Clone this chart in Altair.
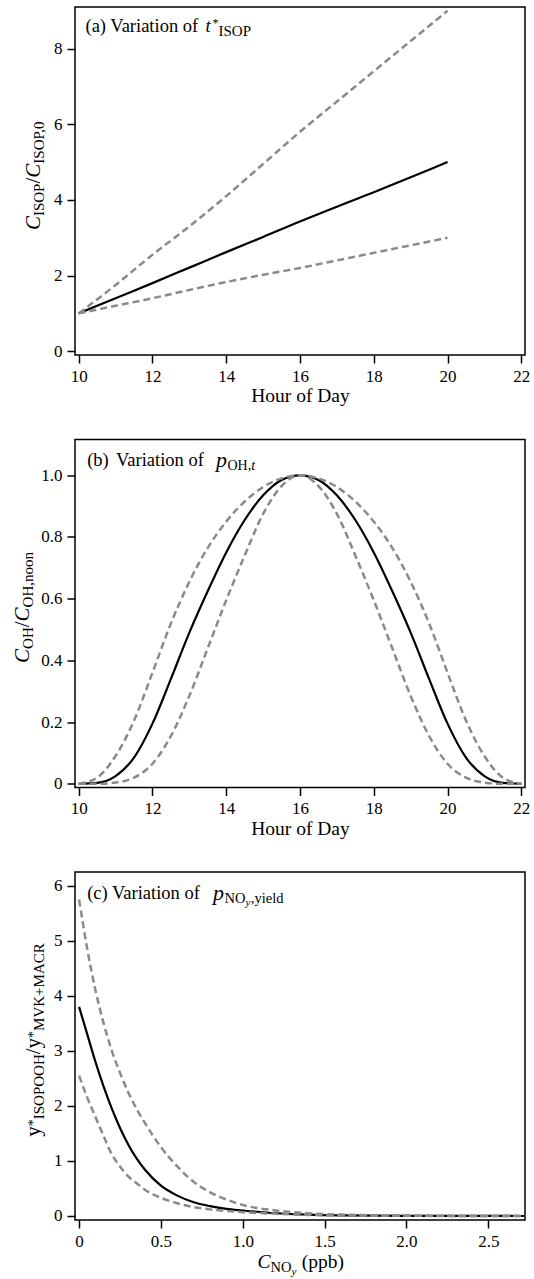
import altair as alt
import pandas as pd

# ---------------- data ----------------
# Panel (a): variation of t*_ISOP
hours_a = [10, 11, 12, 13, 14, 15, 16, 17, 18, 19, 20]
base_a = [1.0, 1.4, 1.8, 2.21, 2.62, 3.02, 3.43, 3.82, 4.2, 4.6, 5.0]
high_a = [1.0, 1.75, 2.55, 3.3, 4.1, 4.95, 5.8, 6.6, 7.4, 8.2, 9.0]
low_a = [1.0, 1.2, 1.4, 1.62, 1.83, 2.02, 2.2, 2.4, 2.6, 2.8, 3.0]

# Panel (b): variation of p_OH,t
hours_b = [10, 10.5, 11, 11.5, 12, 12.5, 13, 13.5, 14, 14.5, 15, 15.5, 16,
           16.5, 17, 17.5, 18, 18.5, 19, 19.5, 20, 20.5, 21, 21.5, 22]
base_b = [0, 0.003, 0.025, 0.085, 0.195, 0.34, 0.49, 0.625, 0.75, 0.855, 0.935, 0.985, 1.0,
          0.985, 0.935, 0.855, 0.75, 0.625, 0.49, 0.34, 0.195, 0.085, 0.025, 0.003, 0]
wide_b = [0, 0.02, 0.09, 0.205, 0.36, 0.52, 0.655, 0.765, 0.85, 0.915, 0.962, 0.99, 1.0,
          0.99, 0.962, 0.915, 0.85, 0.765, 0.655, 0.52, 0.36, 0.205, 0.09, 0.02, 0]
narrow_b = [0, 0, 0.004, 0.02, 0.065, 0.155, 0.285, 0.44, 0.595, 0.74, 0.875, 0.965, 1.0,
            0.965, 0.875, 0.74, 0.595, 0.44, 0.285, 0.155, 0.065, 0.02, 0.004, 0, 0]

# Panel (c): variation of p_NOy,yield
noy_c = [0, 0.05, 0.1, 0.15, 0.2, 0.25, 0.3, 0.35, 0.4, 0.5, 0.6, 0.7, 0.8, 0.9,
         1.0, 1.2, 1.4, 1.6, 2.0, 2.4, 2.72]
base_c = [3.8, 3.3, 2.8, 2.35, 1.95, 1.6, 1.3, 1.05, 0.85, 0.55, 0.37, 0.25, 0.18, 0.13,
          0.1, 0.05, 0.025, 0.012, 0.003, 0.001, 0]
high_c = [5.75, 4.85, 4.1, 3.5, 3.0, 2.6, 2.25, 1.95, 1.7, 1.25, 0.9, 0.62, 0.43, 0.3,
          0.2, 0.1, 0.05, 0.025, 0.006, 0.001, 0]
low_c = [2.55, 2.15, 1.8, 1.45, 1.12, 0.9, 0.72, 0.6, 0.48, 0.33, 0.23, 0.16, 0.12, 0.09,
         0.07, 0.04, 0.02, 0.01, 0.003, 0.001, 0]

# axis ticks
xticks_hours = [10, 12, 14, 16, 18, 20, 22]
yticks_a = [0, 2, 4, 6, 8]
yticks_b = [0, 0.2, 0.4, 0.6, 0.8, 1.0]
xticks_c = [0, 0.5, 1.0, 1.5, 2.0, 2.5]
yticks_c = [0, 1, 2, 3, 4, 5, 6]

# ---------------- styling ----------------
SERIF = "Liberation Serif, Times New Roman, serif"
GRAY = "#8a8a8a"
W, H = 450, 348
DEC = "datum.value == 0 ? '0' : format(datum.value, '.1f')"

ROMAN = {'I': 333, 'S': 556, 'O': 722, 'P': 556, ',': 250, '0': 500, 'H': 722, 'n': 500,
         'o': 500, 'M': 889, 'V': 722, 'K': 722, '+': 564, 'A': 722, 'C': 667, 'R': 667,
         '/': 278, 'y': 500, '*': 500, ' ': 250, 'N': 722, 'i': 278, 'e': 444, 'l': 278,
         'd': 500, '(': 333, ')': 333, 'p': 500, 'b': 500}
ITALIC = {'C': 667, 'y': 444, 'p': 500, 't': 278}


def text_w(s, size, italic):
    tab = ITALIC if italic else ROMAN
    return sum(tab.get(c, ROMAN.get(c, 500)) for c in s) / 1000.0 * size


def piece(s, x, y, size, italic=False, angle=0, align="left"):
    return alt.Chart(pd.DataFrame({"t": [s]})).mark_text(
        align=align, baseline="alphabetic", font=SERIF, fontSize=size,
        fontStyle="italic" if italic else "normal", angle=angle, color="black"
    ).encode(text="t:N", x=alt.value(x), y=alt.value(y))


def hrun(pieces, x0, base_y):
    """Horizontal run of pieces: (text, size, italic, dy, gap_after)."""
    out = []
    x = x0
    for s, sz, it, dy, gap in pieces:
        out.append(piece(s, x, base_y + dy, sz, it))
        x += text_w(s, sz, it) + gap
    return out


def vtitle(pieces, center_y, base_x):
    total = sum(text_w(s, sz, it) for s, sz, it, _ in pieces)
    y = center_y + total / 2.0
    out = []
    for s, sz, it, shift in pieces:
        out.append(piece(s, base_x + shift, y, sz, it, angle=270))
        y -= text_w(s, sz, it)
    return out


def long_df(xs, series):
    rows = []
    for name, ys in series.items():
        for xv, yv in zip(xs, ys):
            rows.append({"x": xv, "y": yv, "s": name})
    return pd.DataFrame(rows)


def panel(df, xdom, ydom, xvals, yvals, xexpr, yexpr, extras):
    xenc = alt.X("x:Q", title=None,
                 scale=alt.Scale(domain=xdom, nice=False, zero=False),
                 axis=alt.Axis(values=xvals, labelExpr=xexpr))
    yenc = alt.Y("y:Q", title=None,
                 scale=alt.Scale(domain=ydom, nice=False, zero=False),
                 axis=alt.Axis(values=yvals, labelExpr=yexpr))
    solid = alt.Chart(df).transform_filter("datum.s == 'base'").mark_line(
        color="black", strokeWidth=2.2, interpolate="monotone"
    ).encode(x=xenc, y=yenc)
    dashed = alt.Chart(df).transform_filter("datum.s != 'base'").mark_line(
        color=GRAY, strokeWidth=2.5, strokeDash=[7, 4], interpolate="monotone"
    ).encode(x=xenc, y=yenc, detail="s:N")
    return alt.layer(solid, dashed, *extras).properties(width=W, height=H)


# ---------------- panel (a) ----------------
df_a = long_df(hours_a, {"base": base_a, "high": high_a, "low": low_a})
marker = alt.Chart(pd.DataFrame({"m": [0]})).mark_rule(
    color="white", strokeOpacity=0, strokeWidth=1
).encode(x=alt.value(-74), x2=alt.value(-74), y=alt.value(-6), y2=alt.value(0))
extras_a = [
    marker,
    piece("(a) Variation of", 10.5, 25.2, 18.5),
    piece("t", 130.5, 25.2, 18.5, italic=True),
    piece("*", 137.5, 19.7, 12),
    piece("ISOP", 143.5, 28.7, 15),
    piece("Hour of Day", 225.5, 395, 19.5, align="center"),
] + vtitle([("C", 21, True, 0), ("ISOP", 15, False, 4), ("/", 21, False, 0),
            ("C", 21, True, 0), ("ISOP,0", 15, False, 4)], 168, -35)
pa = panel(df_a, [9.9, 22.1], [-0.1, 9.1], xticks_hours, yticks_a,
           "format(datum.value, 'd')", "format(datum.value, 'd')", extras_a)

# ---------------- panel (b) ----------------
df_b = long_df(hours_b, {"base": base_b, "wide": wide_b, "narrow": narrow_b})
extras_b = [
    piece("(b)", 12.2, 26, 18.5),
    piece("Variation of", 41, 26, 18.5),
    piece("Hour of Day", 225.5, 395, 19.5, align="center"),
] + hrun([("p", 22, True, 1, 0.5), ("OH,", 14, False, 4, 0), ("t", 14, True, 4, 0)], 141, 26) \
  + vtitle([("C", 21, True, 0), ("OH", 15, False, 4), ("/", 21, False, 0),
            ("C", 21, True, 0), ("OH,noon", 15, False, 4)], 168, -46)
pb = panel(df_b, [9.9, 22.1], [-0.012, 1.116], xticks_hours, yticks_b,
           "format(datum.value, 'd')", DEC, extras_b)

# ---------------- panel (c) ----------------
df_c = long_df(noy_c, {"base": base_c, "high": high_c, "low": low_c})
extras_c = [
    piece("(c) Variation of", 12.2, 26.5, 18.5),
] + hrun([("p", 22, True, 1, 0.5), ("NO", 14.5, False, 4, 0), ("y", 11, True, 7, 0.5),
          (",yield", 14.5, False, 4, 0)], 138, 26.5) \
  + hrun([("C", 19.5, True, 0, 0), ("NO", 14.5, False, 3.5, 0), ("y", 11, True, 6.5, 5.5),
          ("(ppb)", 19.5, False, 0, 0)], 182.5, 396) \
  + vtitle([("y", 21, False, 0), ("*", 14, False, -2), ("ISOPOOH", 15, False, 4),
            ("/", 21, False, 0), ("y", 21, False, 0), ("*", 14, False, -2),
            ("MVK+MACR", 15, False, 4)], 168, -35)
pc = panel(df_c, [-0.025, 2.724], [-0.073, 6.25], xticks_c, yticks_c,
           DEC, "format(datum.value, 'd')", extras_c)

chart = alt.vconcat(pa, pb, pc, spacing=84.5, bounds="flush",
                    padding=0, background="white").configure_view(
    stroke="black", strokeWidth=1.5
).configure_axis(
    labelFont=SERIF, labelFontSize=17, labelColor="black", tickColor="black",
    tickWidth=1.5, tickSize=8, domain=False, grid=False, labelPadding=5,
    labelFlush=False
)

chart.save("out.html", embed_options={"renderer": "svg", "actions": False})
